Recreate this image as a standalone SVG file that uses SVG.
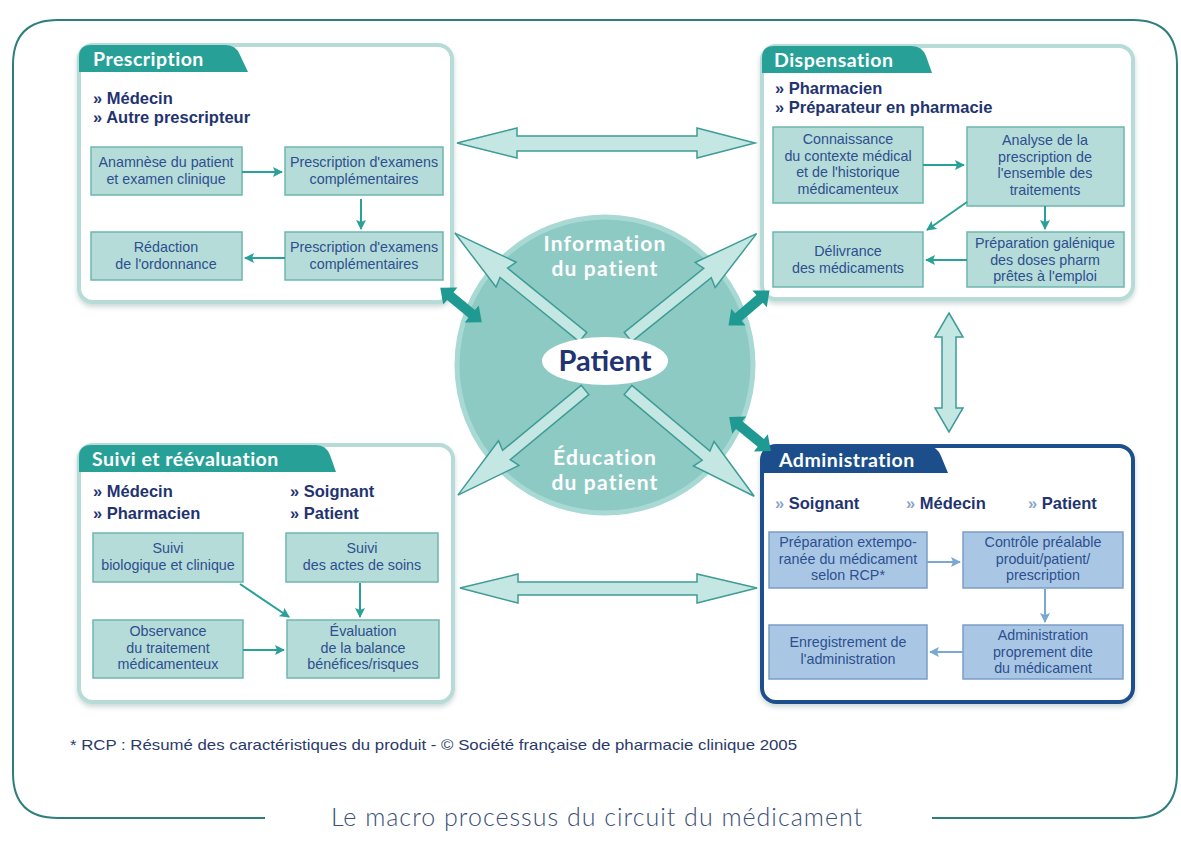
<svg xmlns="http://www.w3.org/2000/svg" width="1181" height="843" viewBox="0 0 1181 843">
<defs>
<style>
.panel{fill:#fff;stroke:#b7dcd8;stroke-width:4}
.panelA{fill:#fff;stroke:#1f4f8c;stroke-width:4}
.tab{fill:#27a198}
.tabA{fill:#1c4e8c}
.tabt{font-family:Lato,"Open Sans",sans-serif;font-weight:700;font-size:19.5px;letter-spacing:0.5px;fill:#fff}
.bul{font-family:"Liberation Sans",Arial,sans-serif;font-weight:700;font-size:16.5px;fill:#1f3470}
.bulA{font-family:"Liberation Sans",Arial,sans-serif;font-weight:700;font-size:16.5px;fill:#1f3470}
.box{fill:#b5dcd8;stroke:#6db6af;stroke-width:1.5}
.boxA{fill:#a9c7e4;stroke:#7a9fc6;stroke-width:1.5}
.bt{font-family:"Liberation Sans",Arial,sans-serif;font-size:14.3px;fill:#2d4f8f;text-anchor:middle}
.ln{stroke:#2aa198;stroke-width:2;fill:none}
.lnA{stroke:#7aa8d2;stroke-width:2;fill:none}
.big{fill:#c5e7e3;stroke:#3e9c97;stroke-width:1.5}
.dark{fill:#1f9a92}
.ct{font-family:Lato,"Open Sans",sans-serif;font-weight:700;font-size:21px;letter-spacing:1.2px;fill:#fff;text-anchor:middle}
</style>
<marker id="mt" viewBox="0 0 10 10" refX="9" refY="5" markerWidth="5" markerHeight="5" orient="auto"><path d="M0,0 L10,5 L0,10 L2,5 Z" fill="#2aa198"/></marker>
<marker id="mb" viewBox="0 0 10 10" refX="9" refY="5" markerWidth="5" markerHeight="5" orient="auto"><path d="M0,0 L10,5 L0,10 L2,5 Z" fill="#7aa8d2"/></marker>
<filter id="sh" x="-5%" y="-5%" width="110%" height="115%"><feDropShadow dx="0" dy="3" stdDeviation="2.5" flood-color="#8fa9a8" flood-opacity="0.45"/></filter>
<polygon id="ray" points="0,-6 102,-6 99,-16 165,0 99,16 102,6 0,6"/>
<polygon id="dbl" points="-27,0 -14,-11 -14,-5 14,-5 14,-11 27,0 14,11 14,5 -14,5 -14,11"/>
</defs>
<rect width="1181" height="843" fill="#fff"/>

<g id="frame">
<path d="M265,818 H58 Q13,818 13,773 V65 Q13,20 58,20 H1133 Q1177,20 1177,65 V773 Q1177,818 1133,818 H932" fill="none" stroke="#2e7f7c" stroke-width="2"/>
<text x="597" y="826" font-family="Lato,'Open Sans',sans-serif" font-weight="300" font-size="25" letter-spacing="1" fill="#3a4f7a" text-anchor="middle">Le macro processus du circuit du médicament</text>
<text x="70" y="750" font-family="'Liberation Sans',Arial,sans-serif" font-size="15" fill="#2a3a6a" textLength="727" lengthAdjust="spacingAndGlyphs">* RCP : Résumé des caractéristiques du produit  - © Société française de pharmacie clinique 2005</text>
</g>

<g id="center">
<circle cx="605" cy="365" r="148" fill="#8ecac4" stroke="#a9d9d4" stroke-width="5"/>
<g class="big">
<use href="#ray" transform="translate(583,337) rotate(219.04)"/>
<use href="#ray" transform="translate(628,337) rotate(-38.8)"/>
<use href="#ray" transform="translate(585,390) rotate(140.4)"/>
<use href="#ray" transform="translate(628,390) rotate(40.1)"/>
</g>
<ellipse cx="605" cy="361" rx="63" ry="24" fill="#fff"/>
<text x="605" y="371" font-family="Lato,'Open Sans',sans-serif" font-weight="700" font-size="29" fill="#1f3470" text-anchor="middle">Patient</text>
<text class="ct" x="605" y="251">Information</text>
<text class="ct" x="605" y="276">du patient</text>
<text class="ct" x="605" y="465">Éducation</text>
<text class="ct" x="605" y="490">du patient</text>
</g>

<g id="prescription">
<rect class="panel" x="79" y="45" width="373" height="257" rx="14" filter="url(#sh)"/>
<path class="tab" d="M79,72 V57 Q79,45 91,45 H226 Q236,45 240,55 L248,72 Z"/>
<text class="tabt" x="93" y="66">Prescription</text>
<text class="bul" x="93" y="104">» Médecin</text>
<text class="bul" x="93" y="123">» Autre prescripteur</text>
<rect class="box" x="91" y="147" width="151" height="48"/>
<text class="bt" x="166" y="167">Anamnèse du patient<tspan x="166" dy="17">et examen clinique</tspan></text>
<rect class="box" x="285" y="147" width="158" height="48"/>
<text class="bt" x="364" y="167">Prescription d'examens<tspan x="364" dy="17">complémentaires</tspan></text>
<rect class="box" x="91" y="232" width="151" height="48"/>
<text class="bt" x="166" y="252">Rédaction<tspan x="166" dy="17">de l'ordonnance</tspan></text>
<rect class="box" x="285" y="232" width="158" height="48"/>
<text class="bt" x="364" y="252">Prescription d'examens<tspan x="364" dy="17">complémentaires</tspan></text>
</g>

<g id="dispensation">
<rect class="panel" x="762" y="46" width="371" height="253" rx="14" filter="url(#sh)"/>
<path class="tab" d="M762,73 V58 Q762,46 774,46 H912 Q922,46 926,56 L932,73 Z"/>
<text class="tabt" x="774" y="67">Dispensation</text>
<text class="bul" x="775" y="94">» Pharmacien</text>
<text class="bul" x="775" y="113">» Préparateur en pharmacie</text>
<rect class="box" x="773" y="127" width="150" height="76"/>
<text class="bt" x="848" y="144">Connaissance<tspan x="848" dy="16.5">du contexte médical</tspan><tspan x="848" dy="16.5">et de l'historique</tspan><tspan x="848" dy="16.5">médicamenteux</tspan></text>
<rect class="box" x="967" y="127" width="157" height="79"/>
<text class="bt" x="1045" y="145">Analyse de la<tspan x="1045" dy="16.5">prescription de</tspan><tspan x="1045" dy="16.5">l'ensemble des</tspan><tspan x="1045" dy="16.5">traitements</tspan></text>
<rect class="box" x="773" y="232" width="150" height="55"/>
<text class="bt" x="848" y="256">Délivrance<tspan x="848" dy="17">des médicaments</tspan></text>
<rect class="box" x="967" y="232" width="157" height="55"/>
<text class="bt" x="1045" y="248">Préparation galénique<tspan x="1045" dy="16.5">des doses pharm</tspan><tspan x="1045" dy="16.5">prêtes à l'emploi</tspan></text>
</g>

<g id="suivi">
<rect class="panel" x="79" y="445" width="374" height="257" rx="14" filter="url(#sh)"/>
<path class="tab" d="M79,472 V457 Q79,445 91,445 H316 Q326,445 330,455 L336,472 Z"/>
<text class="tabt" x="92" y="466">Suivi et réévaluation</text>
<text class="bul" x="93" y="497">» Médecin</text>
<text class="bul" x="93" y="519">» Pharmacien</text>
<text class="bul" x="290" y="497">» Soignant</text>
<text class="bul" x="290" y="519">» Patient</text>
<rect class="box" x="93" y="533" width="150" height="49"/>
<text class="bt" x="168" y="553">Suivi<tspan x="168" dy="17">biologique et clinique</tspan></text>
<rect class="box" x="286" y="533" width="152" height="49"/>
<text class="bt" x="362" y="553">Suivi<tspan x="362" dy="17">des actes de soins</tspan></text>
<rect class="box" x="93" y="620" width="150" height="58"/>
<text class="bt" x="168" y="636">Observance<tspan x="168" dy="16.5">du traitement</tspan><tspan x="168" dy="16.5">médicamenteux</tspan></text>
<rect class="box" x="287" y="620" width="152" height="58"/>
<text class="bt" x="363" y="636">Évaluation<tspan x="363" dy="16.5">de la balance</tspan><tspan x="363" dy="16.5">bénéfices/risques</tspan></text>
</g>

<g id="administration">
<rect class="panelA" x="762" y="446" width="371" height="256" rx="14" filter="url(#sh)"/>
<path class="tabA" d="M762,473 V458 Q762,446 774,446 H927 Q937,446 941,456 L948,473 Z"/>
<text class="tabt" x="779" y="467">Administration</text>
<text class="bulA" x="775" y="509"><tspan fill="#8aa5c8">»</tspan> Soignant</text>
<text class="bulA" x="906" y="509"><tspan fill="#8aa5c8">»</tspan> Médecin</text>
<text class="bulA" x="1028" y="509"><tspan fill="#8aa5c8">»</tspan> Patient</text>
<rect class="boxA" x="769" y="532" width="158" height="56"/>
<text class="bt" x="848" y="547">Préparation extempo-<tspan x="848" dy="16.5">ranée du médicament</tspan><tspan x="848" dy="16.5">selon RCP*</tspan></text>
<rect class="boxA" x="963" y="532" width="160" height="56"/>
<text class="bt" x="1043" y="547">Contrôle préalable<tspan x="1043" dy="16.5">produit/patient/</tspan><tspan x="1043" dy="16.5">prescription</tspan></text>
<rect class="boxA" x="769" y="625" width="158" height="54"/>
<text class="bt" x="848" y="647">Enregistrement de<tspan x="848" dy="17">l'administration</tspan></text>
<rect class="boxA" x="963" y="625" width="160" height="54"/>
<text class="bt" x="1043" y="640">Administration<tspan x="1043" dy="16.5">proprement dite</tspan><tspan x="1043" dy="16.5">du médicament</tspan></text>
</g>

<g id="connectors">
<line class="ln" x1="242" y1="172" x2="282" y2="172" marker-end="url(#mt)"/>
<line class="ln" x1="361" y1="199" x2="361" y2="229" marker-end="url(#mt)"/>
<line class="ln" x1="285" y1="258" x2="245" y2="258" marker-end="url(#mt)"/>
<line class="ln" x1="923" y1="165" x2="964" y2="165" marker-end="url(#mt)"/>
<line class="ln" x1="967" y1="202" x2="927" y2="230" marker-end="url(#mt)"/>
<line class="ln" x1="1045" y1="206" x2="1045" y2="229" marker-end="url(#mt)"/>
<line class="ln" x1="967" y1="260" x2="926" y2="260" marker-end="url(#mt)"/>
<line class="ln" x1="240" y1="584" x2="289" y2="617" marker-end="url(#mt)"/>
<line class="ln" x1="360" y1="583" x2="360" y2="617" marker-end="url(#mt)"/>
<line class="ln" x1="243" y1="650" x2="284" y2="650" marker-end="url(#mt)"/>
<line class="lnA" x1="927" y1="562" x2="960" y2="562" marker-end="url(#mb)"/>
<line class="lnA" x1="1045" y1="589" x2="1045" y2="622" marker-end="url(#mb)"/>
<line class="lnA" x1="963" y1="652" x2="930" y2="652" marker-end="url(#mb)"/>
<polygon class="big" points="457,143 517,128 517,136 697,136 697,128 755,143 697,158 697,151 517,151 517,158"/>
<polygon class="big" points="460,588 518,574 518,582 697,582 697,574 757,588 697,603 697,595 518,595 518,603"/>
<polygon class="big" points="949,313 963,337 956,337 956,408 963,408 949,432 935,408 942,408 942,337 935,337"/>
<use class="dark" href="#dbl" transform="translate(461,305) rotate(39.8)"/>
<use class="dark" href="#dbl" transform="translate(749,308) rotate(-40.6)"/>
<use class="dark" href="#dbl" transform="translate(750,434) rotate(39.3)"/>
</g>
</svg>
